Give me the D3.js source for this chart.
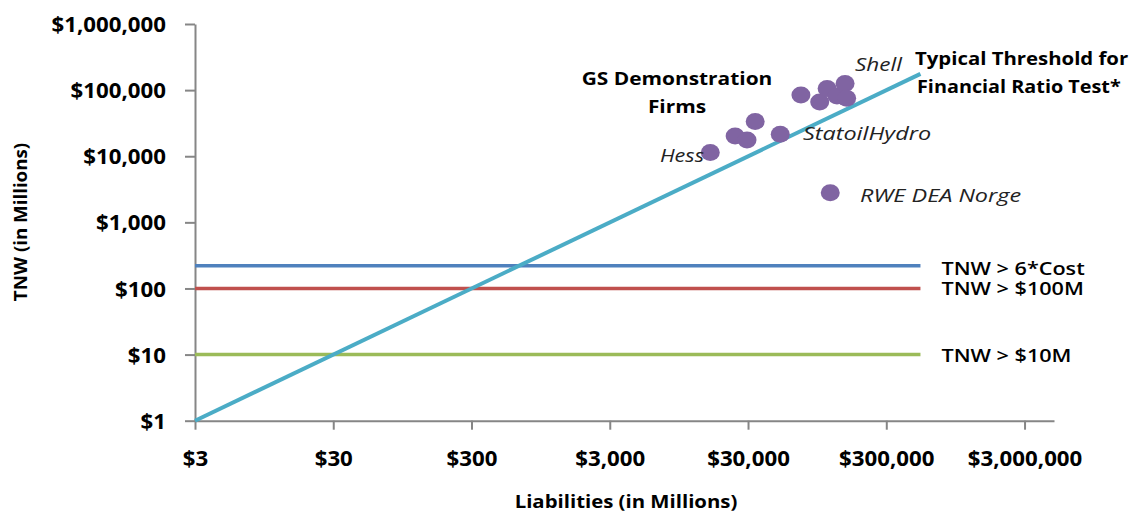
<!DOCTYPE html>
<html>
<head>
<meta charset="utf-8">
<script src="https://cdn.jsdelivr.net/npm/d3@7"></script>
<style>
  body { margin: 0; background: #fff; }
  svg { display: block; font-family: "Open Sans", sans-serif; }
  .tick text { font-weight: 700; fill: #000; }
</style>
</head>
<body>
<div id="chart"></div>
<script>
// liabilities vs TNW, both in $ millions
const firmLiab = [16000, 24200, 29500, 33800, 51300, 72400, 99000, 112000, 132000, 151000, 155000, 118000];
const firmTnw  = [11400, 20300, 17600, 33400, 21500, 84600, 66300, 106000, 81700, 126000, 75400, 2800];

const thresholdLiab = [3, 530000];
const thresholdTnw  = [1, 176000];

const floorNames  = ['TNW > 6*Cost', 'TNW > $100M', 'TNW > $10M'];
const floorValues = [220, 100, 10];
const floorColors = ['#4F81BD', '#C0504D', '#9BBB59'];

const xTicks = [3, 30, 300, 3000, 30000, 300000, 3000000];
const yTicks = [1, 10, 100, 1000, 10000, 100000, 1000000];

// the source picture is a bit wide, so text gets stretched sideways
function stretch(sel, k) {
  sel.each(function() {
    const w = this.getComputedTextLength();
    d3.select(this).attr('textLength', w * k).attr('lengthAdjust', 'spacingAndGlyphs');
  });
}

function render() {
  const width = 1133, height = 514;
  const svg = d3.select('#chart').append('svg').attr('width', width).attr('height', height);

  const x = d3.scaleLog().domain([3, 4.9e6]).range([195, 1054]);
  const y = d3.scaleLog().domain([1, 1e6]).range([420.7, 24]);
  const money = d => '$' + d3.format(',')(d);

  // axes
  const xAxis = svg.append('g').attr('transform', 'translate(0,420.7)')
    .call(d3.axisBottom(x).tickValues(xTicks).tickFormat(money).tickSizeInner(9).tickSizeOuter(0).tickPadding(21));
  const yAxis = svg.append('g').attr('transform', 'translate(195,0)')
    .call(d3.axisLeft(y).tickValues(yTicks).tickFormat(money).tickSizeInner(10).tickSizeOuter(0).tickPadding(19));
  [xAxis, yAxis].forEach(g => {
    g.select('.domain').attr('stroke', '#868686').attr('stroke-width', 2);
    g.selectAll('.tick line').attr('stroke', '#868686').attr('stroke-width', 2);
    g.selectAll('.tick text').attr('font-size', 21).attr('font-family', '"Open Sans", sans-serif');
    stretch(g.selectAll('.tick text'), 1.06);
  });
  yAxis.selectAll('.tick text').attr('dy', '0.36em');

  // horizontal floors
  const floors = floorValues.map((v, i) => ({v, name: floorNames[i], color: floorColors[i]}));
  svg.append('g').selectAll('line').data(floors).join('line')
    .attr('x1', x(thresholdLiab[0])).attr('x2', x(thresholdLiab[1]))
    .attr('y1', d => y(d.v)).attr('y2', d => y(d.v))
    .attr('stroke', d => d.color).attr('stroke-width', 3.5);
  const floorText = svg.append('g').selectAll('text').data(floors).join('text')
    .attr('x', x(thresholdLiab[1]) + 21)
    .attr('y', (d, i) => y(d.v) + (i === 0 ? 9 : 7))
    .attr('font-size', 18).attr('font-weight', 600)
    .text(d => d.name);
  stretch(floorText, 1.2);

  // threshold line
  const thr = thresholdLiab.map((l, i) => [l, thresholdTnw[i]]);
  svg.append('path').datum(thr)
    .attr('d', d3.line().x(d => x(d[0])).y(d => y(d[1])))
    .attr('stroke', '#4BACC6').attr('stroke-width', 4).attr('fill', 'none');

  // firms
  const firms = firmLiab.map((l, i) => ({l, t: firmTnw[i]}));
  svg.append('g').selectAll('ellipse').data(firms).join('ellipse')
    .attr('cx', d => x(d.l)).attr('cy', d => y(d.t))
    .attr('rx', 9.5).attr('ry', 8.5)
    .attr('fill', '#8064A2');

  // annotations
  const note = (tx, ty, s, opts) => {
    const t = svg.append('text').attr('x', tx).attr('y', ty).text(s)
      .attr('font-size', opts.size || 18);
    if (opts.bold) t.attr('font-weight', 700);
    if (opts.italic) t.attr('font-style', 'italic').attr('fill', '#222');
    if (opts.anchor) t.attr('text-anchor', opts.anchor);
    stretch(t, opts.k || 1);
    return t;
  };
  note(677, 85, 'GS Demonstration', {bold: true, anchor: 'middle', size: 18, k: 1.16});
  note(677, 113, 'Firms', {bold: true, anchor: 'middle', size: 18, k: 1.16});
  note(704, 162, 'Hess', {italic: true, anchor: 'end', k: 1.2});
  note(803, 140, 'StatoilHydro', {italic: true, k: 1.3});
  note(855, 71, 'Shell', {italic: true, k: 1.25});
  note(860, 202, 'RWE DEA Norge', {italic: true, k: 1.3});
  note(915, 65, 'Typical Threshold for', {bold: true, size: 18, k: 1.13});
  note(917, 93, 'Financial Ratio Test*', {bold: true, size: 18, k: 1.1});

  // axis titles
  const xt = svg.append('text').attr('x', 626).attr('y', 508).attr('text-anchor', 'middle')
    .attr('font-size', 18).attr('font-weight', 700).text('Liabilities (in Millions)');
  stretch(xt, 1.13);
  const yt = svg.append('text').attr('transform', 'translate(27,222) rotate(-90)').attr('text-anchor', 'middle')
    .attr('font-size', 18).attr('font-weight', 700).text('TNW (in Millions)');
  stretch(yt, 1.04);
}

render();
</script>
</body>
</html>
